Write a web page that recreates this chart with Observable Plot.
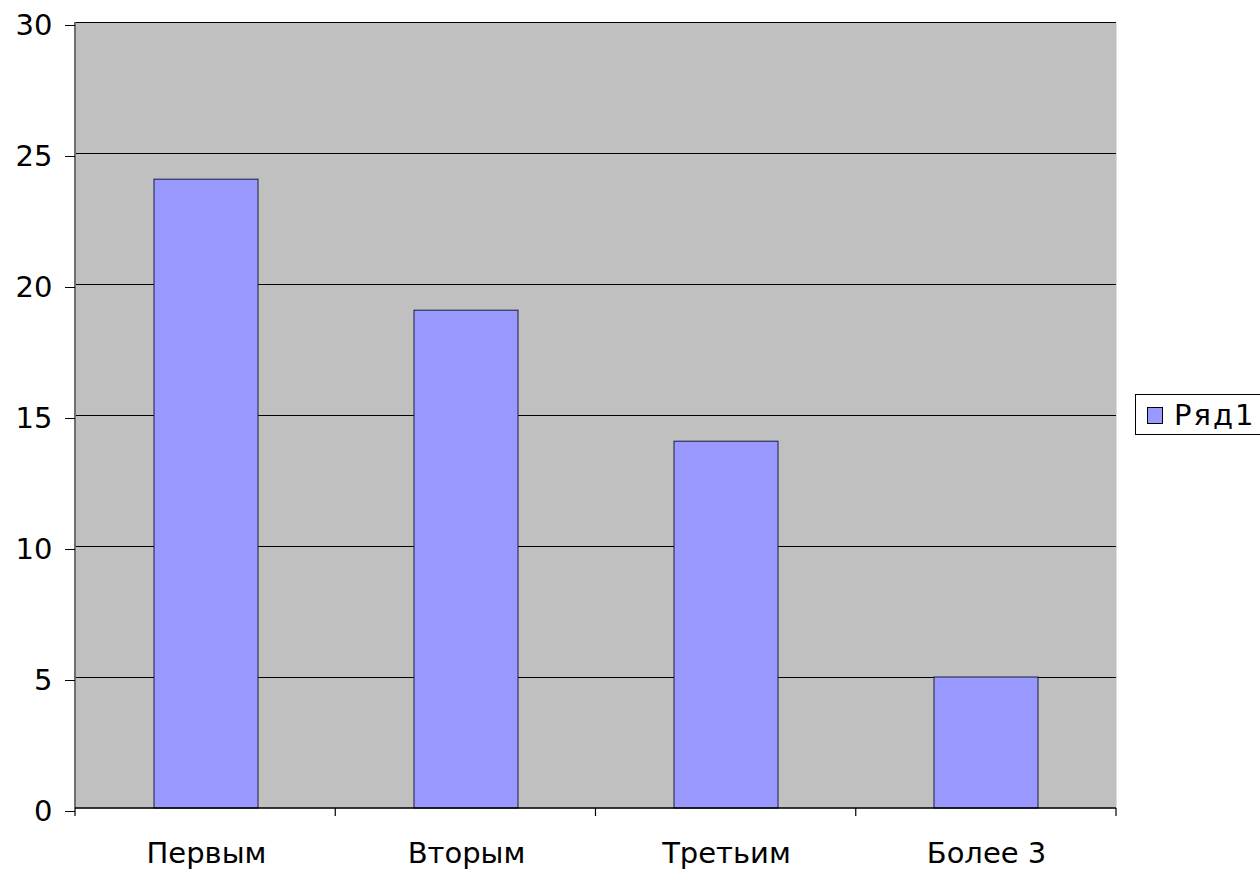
<!DOCTYPE html>
<html>
<head>
<meta charset="utf-8">
<script src="https://cdn.jsdelivr.net/npm/d3@7"></script>
<script src="https://cdn.jsdelivr.net/npm/@observablehq/plot@0.6"></script>
<style>
  html, body { margin: 0; padding: 0; background: #fff; overflow: hidden; }
  #wrap { position: relative; width: 1260px; height: 869px; }
  #legend {
    position: absolute; left: 1135px; top: 394px; width: 150px; height: 41px;
    box-sizing: border-box; border: 1px solid #000; background: #fff;
    font-family: "DejaVu Sans", sans-serif; font-size: 29px; letter-spacing: 2px;
    display: flex; align-items: center; color: #000;
  }
  #legend .sw {
    width: 16px; height: 17px; box-sizing: border-box; border: 1px solid #000;
    background: #9999ff; margin-left: 11px; margin-right: 11px; margin-top: 2px;
  }
</style>
</head>
<body>
<div id="wrap">
  <div id="chart"></div>
  <div id="legend"><div class="sw"></div><span id="legend-label"></span></div>
</div>
<script>
// ---- data ----
const categories = ["Первым", "Вторым", "Третьим", "Более 3"];
const values = [24, 19, 14, 5];
const yTicks = [0, 5, 10, 15, 20, 25, 30];
const seriesName = "Ряд1";

const data = categories.map((c, i) => ({category: c, value: values[i]}));

// axis lines + tick marks at the category boundaries, computed from the plot's layout
function axisFrame(index, scales, values_, dim) {
  const g = d3.create("svg:g");
  const x0 = dim.marginLeft;
  const x1 = dim.width - dim.marginRight;
  const yZero = scales.y(0);
  const yTop = scales.y(d3.max(yTicks));
  const n = categories.length;
  const step = (x1 - x0) / n;
  // left axis line
  g.append("line")
    .attr("x1", x0).attr("x2", x0).attr("y1", yTop).attr("y2", yZero)
    .attr("stroke", "#6e6e6e").attr("stroke-width", 2);
  // bottom axis line
  g.append("line")
    .attr("x1", x0).attr("x2", x1).attr("y1", yZero).attr("y2", yZero)
    .attr("stroke", "#000").attr("stroke-width", 1.5);
  for (let i = 0; i <= n; i++) {
    const x = x0 + i * step;
    g.append("line")
      .attr("x1", x).attr("x2", x).attr("y1", yZero).attr("y2", yZero + 8)
      .attr("stroke", "#000").attr("stroke-width", 1.2);
  }
  return g.node();
}

const chart = Plot.plot({
  width: 1260,
  height: 869,
  marginLeft: 75,
  marginRight: 144,
  marginTop: 22,
  marginBottom: 61,
  style: {fontFamily: "DejaVu Sans, sans-serif", fontSize: "29px", background: "#fff", color: "#000"},
  x: {domain: categories, paddingInner: 0.6, paddingOuter: 0.3, label: null},
  y: {domain: [0, 30], label: null},
  marks: [
    Plot.frame({fill: "#c0c0c0", stroke: null}),
    Plot.gridY(yTicks.filter(d => d > 0), {stroke: "#000", strokeOpacity: 1, strokeWidth: 1}),
    Plot.barY(data, {x: "category", y: "value", fill: "#9999ff", stroke: "#1a1a40", strokeWidth: 1}),
    axisFrame,
    Plot.axisY({ticks: yTicks, tickSize: 10, tickPadding: 13, stroke: "#000", dy: 3, label: null}),
    Plot.axisX({tickSize: 0, tickPadding: 34, label: null})
  ]
});
document.getElementById("chart").appendChild(chart);
document.getElementById("legend-label").textContent = seriesName;
</script>
</body>
</html>
